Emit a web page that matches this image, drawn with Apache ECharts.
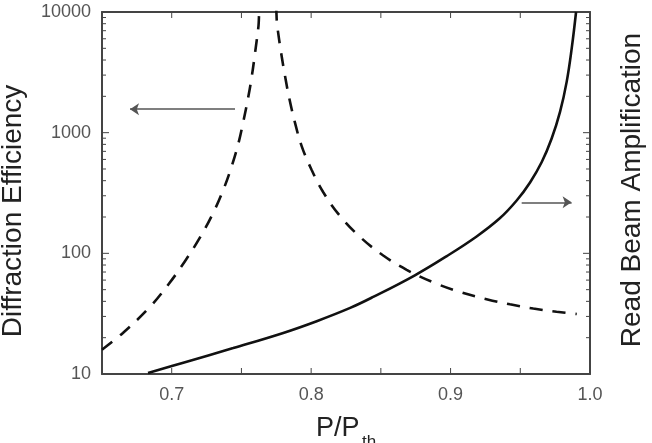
<!DOCTYPE html>
<html>
<head>
<meta charset="utf-8">
<script src="https://cdn.jsdelivr.net/npm/echarts@6/dist/echarts.min.js"></script>
<style>
html,body{margin:0;padding:0;background:#fff;}
#chart{width:652px;height:443px;}
</style>
</head>
<body>
<div id="chart"></div>
<script>
// diffraction efficiency (dashed, left axis) - diverges near P/Pth ~ 0.768
// the two 12000 points sit above the frame so the peak gets clipped
const effX = [0.650, 0.665, 0.684, 0.6976, 0.7095, 0.7203, 0.7298, 0.737, 0.743, 0.7478, 0.7513, 0.7549, 0.7574, 0.7597, 0.7621, 0.7642,
              0.7734, 0.7757, 0.7784, 0.7813, 0.7843, 0.7884, 0.7932, 0.8003, 0.8087, 0.8207, 0.835, 0.8517, 0.8685, 0.8875, 0.908, 0.9258, 0.9426, 0.9593, 0.976, 0.9905];
const effY = [15.9, 21.9, 35.6, 55.2, 86.1, 135.5, 217, 336, 526, 813, 1225, 1972, 2911, 4519, 7385, 12000,
              12000, 7605, 4634, 2931, 1930, 1211, 773, 493, 321, 204, 137, 96, 73, 57.5, 47.3, 41.7, 37.8, 34.9, 32.8, 31.4];
// read beam amplification (solid, right axis)
const ampX = [0.683, 0.7083, 0.7441, 0.780, 0.804, 0.828, 0.8445, 0.8744, 0.897, 0.9187, 0.9355, 0.9474, 0.957, 0.9654, 0.9725, 0.9785, 0.9833, 0.9869, 0.990];
const ampY = [10.2, 12.4, 16.4, 21.9, 27.4, 35.3, 43.5, 65.8, 94.4, 138, 196, 274, 387, 571, 895, 1486, 2649, 5012, 10000];
const xLabels = ['0.7', '0.8', '0.9', '1.0'];
const xTickVals = [0.70, 0.75, 0.80, 0.85, 0.90, 0.95];
const yMajorVals = [100, 1000];
const yMinorVals = [20, 30, 40, 50, 60, 70, 80, 90, 200, 300, 400, 500, 600, 700, 800, 900, 2000, 3000, 4000, 5000, 6000, 7000, 8000, 9000];
// arrows pointing to the axis each curve belongs to
const leftArrow = [[0.7454, 1567], [0.6701, 1567]];
const rightArrow = [[0.951, 265], [0.9868, 265]];

const FONT = "'Liberation Sans', Arial, sans-serif";
const INK = '#444';
const frame = {show: true, lineStyle: {color: INK, width: 2}};

const chart = echarts.init(document.getElementById('chart'));
const xBase = {type: 'value', min: 0.65, max: 1.0, interval: 0.05, splitLine: {show: false}, axisLine: frame, axisTick: {show: false}};
const yBase = {type: 'log', logBase: 10, min: 10, max: 10000, splitLine: {show: false}, axisLine: frame, axisTick: {show: false}, minorTick: {show: false}};

// inward ticks on all four sides, placed through the axes' own scales
function yTickItem(params, api) {
    const p = api.coord([api.value(0), api.value(1)]);
    const len = api.value(2), rx = params.coordSys.x + params.coordSys.width;
    const st = {stroke: INK, lineWidth: 1};
    return {type: 'group', children: [
        {type: 'line', shape: {x1: p[0], y1: p[1], x2: p[0] + len, y2: p[1]}, style: st},
        {type: 'line', shape: {x1: rx, y1: p[1], x2: rx - len, y2: p[1]}, style: st}
    ]};
}
function xTickItem(params, api) {
    const p = api.coord([api.value(0), api.value(1)]);
    const len = api.value(2), ty = params.coordSys.y;
    const st = {stroke: INK, lineWidth: 1};
    return {type: 'group', children: [
        {type: 'line', shape: {x1: p[0], y1: p[1], x2: p[0], y2: p[1] - len}, style: st},
        {type: 'line', shape: {x1: p[0], y1: ty, x2: p[0], y2: ty + len}, style: st}
    ]};
}

const arrowLine = (pts) => ({
    silent: true, symbol: ['none', 'arrow'], symbolSize: 9,
    label: {show: false}, lineStyle: {color: '#555', width: 1.5, type: 'solid'},
    data: [[{coord: pts[0]}, {coord: pts[1]}]]
});

chart.setOption({
    backgroundColor: '#fff',
    animation: false,
    grid: {left: 102, top: 12, width: 488, height: 362, containLabel: false, outerBoundsMode: 'none'},
    xAxis: [
        Object.assign({}, xBase, {
            position: 'bottom',
            axisLabel: {
                fontFamily: FONT, fontSize: 18, color: '#555', margin: 12,
                formatter: v => { const s = v.toFixed(1); return (xLabels.includes(s) && Math.abs(v - parseFloat(s)) < 1e-6) ? s : ''; }
            }
        }),
        Object.assign({}, xBase, {position: 'top', axisLabel: {show: false}})
    ],
    yAxis: [
        Object.assign({}, yBase, {
            position: 'left',
            axisLabel: {fontFamily: FONT, fontSize: 18, color: '#555', margin: 11, formatter: v => String(Math.round(v))}
        }),
        Object.assign({}, yBase, {position: 'right', axisLabel: {show: false}})
    ],
    graphic: [
        {type: 'text', x: 13, y: 211, rotation: Math.PI / 2, style: {text: 'Diffraction Efficiency', font: '28px ' + FONT, fill: '#222', align: 'center', verticalAlign: 'middle'}},
        {type: 'text', x: 632, y: 190, rotation: Math.PI / 2, style: {text: 'Read Beam Amplification', font: '28px ' + FONT, fill: '#222', align: 'center', verticalAlign: 'middle'}},
        {type: 'text', x: 316, y: 415, style: {text: 'P/P', font: '27px ' + FONT, fill: '#222', align: 'left', verticalAlign: 'top'}},
        {type: 'text', x: 362, y: 434, style: {text: 'th', font: '17px ' + FONT, fill: '#222', align: 'left', verticalAlign: 'top'}}
    ],
    series: [
        {
            name: 'Diffraction Efficiency', type: 'line', xAxisIndex: 0, yAxisIndex: 0,
            data: effX.map((x, i) => [x, effY[i]]),
            smooth: 0.4, symbol: 'none', clip: true,
            lineStyle: {color: '#111', width: 2.6, type: [13, 10]},
            markLine: arrowLine(leftArrow)
        },
        {
            name: 'Read Beam Amplification', type: 'line', xAxisIndex: 0, yAxisIndex: 1,
            data: ampX.map((x, i) => [x, ampY[i]]),
            smooth: 0.4, symbol: 'none', clip: true,
            lineStyle: {color: '#111', width: 2.6},
            markLine: arrowLine(rightArrow)
        },
        {
            type: 'custom', xAxisIndex: 0, yAxisIndex: 0, silent: true, renderItem: yTickItem, encode: {x: 0, y: 1},
            data: yMajorVals.map(v => [0.65, v, 7]).concat(yMinorVals.map(v => [0.65, v, 4]))
        },
        {
            type: 'custom', xAxisIndex: 0, yAxisIndex: 0, silent: true, renderItem: xTickItem, encode: {x: 0, y: 1},
            data: xTickVals.map(v => [v, 10, 6])
        }
    ]
});
</script>
</body>
</html>
